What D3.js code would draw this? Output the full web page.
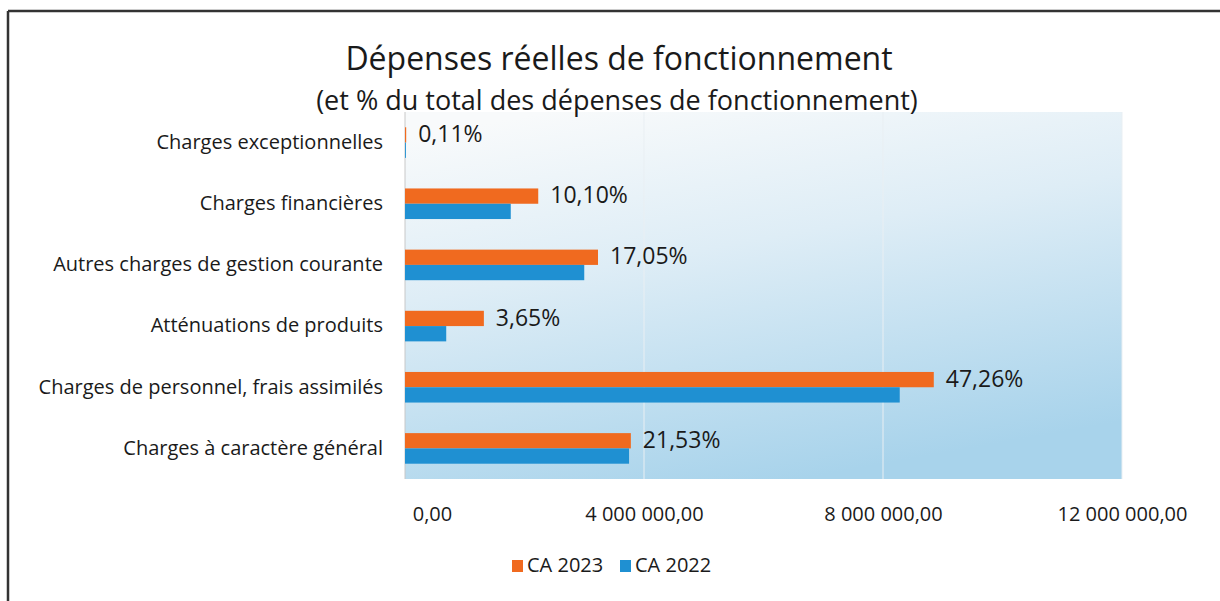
<!DOCTYPE html>
<html>
<head>
  <meta charset="utf-8">
  <script src="https://d3js.org/d3.v7.min.js"></script>
  <style>
    body { margin: 0; background: #fff; }
    svg { display: block; font-family: "Open Sans", "Lato", sans-serif; }
  </style>
</head>
<body>
<div id="chart"></div>
<script>
  // categories, listed top to bottom as drawn
  var categories = [
    "Charges exceptionnelles",
    "Charges financières",
    "Autres charges de gestion courante",
    "Atténuations de produits",
    "Charges de personnel, frais assimilés",
    "Charges à caractère général"
  ];
  var ca2023 = [20000, 2230000, 3230000, 1320000, 8850000, 3780000];
  var ca2022 = [15000, 1770000, 3000000, 690000, 8280000, 3750000];
  var pctLabels = ["0,11%", "10,10%", "17,05%", "3,65%", "47,26%", "21,53%"];
  var xTicks = [0, 4000000, 8000000, 12000000];
  var seriesNames = ["CA 2023", "CA 2022"];
  var colors = { "CA 2023": "#f06a1f", "CA 2022": "#1f90d2" };

  var W = 1220, H = 601;
  var plot = { left: 405, right: 1122, top: 112, bottom: 479 };
  var ink = "#1a1a1a";

  var svg = d3.select("#chart").append("svg")
    .attr("width", W).attr("height", H);

  // frame (only top and left edges show in the scan)
  svg.append("line").attr("x1", 8).attr("x2", W).attr("y1", 11).attr("y2", 11)
    .attr("stroke", "#333").attr("stroke-width", 2.5);
  svg.append("line").attr("x1", 8).attr("x2", 8).attr("y1", 11).attr("y2", H)
    .attr("stroke", "#333").attr("stroke-width", 2.5);

  // gradient background of plot area
  var defs = svg.append("defs");
  var grad = defs.append("linearGradient").attr("id", "bg")
    .attr("x1", "20%").attr("y1", "0%").attr("x2", "55%").attr("y2", "100%");
  grad.append("stop").attr("offset", "0%").attr("stop-color", "#f8fafb");
  grad.append("stop").attr("offset", "40%").attr("stop-color", "#deedf6");
  grad.append("stop").attr("offset", "100%").attr("stop-color", "#a8d3eb");

  svg.append("rect")
    .attr("x", plot.left).attr("y", plot.top)
    .attr("width", plot.right - plot.left).attr("height", plot.bottom - plot.top)
    .attr("fill", "url(#bg)");

  var x = d3.scaleLinear().domain([0, 12000000]).range([plot.left, plot.right]);
  var y = d3.scaleBand().domain(categories).range([plot.top, plot.bottom]).paddingInner(0.5).paddingOuter(0.25);
  var y1 = d3.scaleBand().domain(seriesNames).range([0, y.bandwidth()]);

  // gridlines
  svg.append("g").selectAll("line").data(xTicks).join("line")
    .attr("x1", function(d) { return x(d); }).attr("x2", function(d) { return x(d); })
    .attr("y1", plot.top).attr("y2", plot.bottom)
    .attr("stroke", function(d) { return d === 0 ? "#c8c8c8" : "#e9eff3"; })
    .attr("stroke-width", 1);

  // bars
  var rows = categories.map(function(c, i) {
    return { cat: c, values: [ { s: "CA 2023", v: ca2023[i] }, { s: "CA 2022", v: ca2022[i] } ], pct: pctLabels[i], top: ca2023[i] };
  });

  var grp = svg.append("g").selectAll("g").data(rows).join("g")
    .attr("transform", function(d) { return "translate(0," + y(d.cat) + ")"; });

  grp.selectAll("rect").data(function(d) { return d.values; }).join("rect")
    .attr("x", x(0))
    .attr("y", function(d) { return y1(d.s); })
    .attr("width", function(d) { return x(d.v) - x(0); })
    .attr("height", y1.bandwidth())
    .attr("fill", function(d) { return colors[d.s]; });

  grp.append("text")
    .attr("x", function(d) { return x(d.top) + 12; })
    .attr("y", y1.bandwidth() / 2 + 1)
    .attr("dominant-baseline", "middle")
    .attr("font-size", 23)
    .attr("fill", ink)
    .text(function(d) { return d.pct; });

  // category labels
  svg.append("g").selectAll("text").data(categories).join("text")
    .attr("x", 383)
    .attr("y", function(d) { return y(d) + y.bandwidth() / 2 + 1; })
    .attr("text-anchor", "end")
    .attr("dominant-baseline", "middle")
    .attr("font-size", 20)
    .attr("fill", ink)
    .text(function(d) { return d; });

  // x axis labels
  var axis = d3.axisBottom(x).tickValues(xTicks).tickSize(0)
    .tickFormat(function(d) { return d3.format(",.2f")(d).replace(/,/g, " ").replace(".", ","); });
  var ax = svg.append("g").attr("transform", "translate(0," + (plot.bottom + 25) + ")").call(axis);
  ax.select(".domain").remove();
  ax.selectAll("text").attr("font-size", 20).attr("fill", ink)
    .attr("font-family", "\"Open Sans\", sans-serif")
    .attr("dx", function(d) { return d === 0 ? 27 : 0; });

  // title
  svg.append("text").attr("x", 619).attr("y", 70).attr("text-anchor", "middle")
    .attr("font-size", 32).attr("fill", ink).text("Dépenses réelles de fonctionnement");
  svg.append("text").attr("x", 617).attr("y", 110).attr("text-anchor", "middle")
    .attr("font-size", 27).attr("fill", ink).text("(et % du total des dépenses de fonctionnement)");

  // legend
  var legend = svg.append("g").attr("transform", "translate(512,566)");
  var lx = [0, 108];
  var li = legend.selectAll("g").data(seriesNames).join("g")
    .attr("transform", function(d, i) { return "translate(" + lx[i] + ",0)"; });
  li.append("rect").attr("x", 0).attr("y", -6).attr("width", 11).attr("height", 12)
    .attr("fill", function(d) { return colors[d]; });
  li.append("text").attr("x", 15).attr("y", 1).attr("dominant-baseline", "middle")
    .attr("font-size", 20).attr("fill", ink).text(function(d) { return d; });
</script>
</body>
</html>
